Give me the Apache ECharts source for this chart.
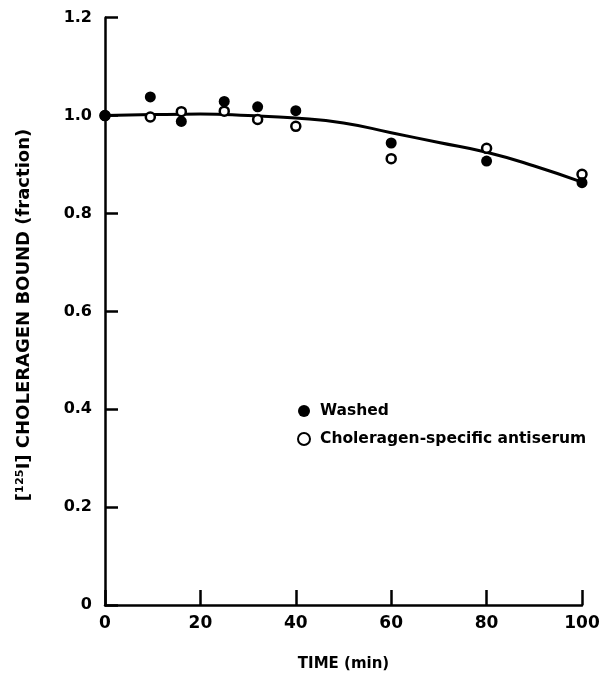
<!DOCTYPE html>
<html>
<head>
<meta charset="utf-8">
<script src="https://cdn.jsdelivr.net/npm/echarts@6/dist/echarts.min.js"></script>
<style>
html,body{margin:0;padding:0;background:#fff;}
#chart{width:607px;height:677px;}
</style>
</head>
<body>
<div id="chart"></div>
<script>
// Data
const times = [0, 9.5, 16, 25, 32, 40, 60, 80, 100];
const washed = [1.0, 1.038, 0.988, 1.029, 1.018, 1.010, 0.944, 0.907, 0.863];
const antiserum = [1.0, 0.997, 1.008, 1.009, 0.992, 0.978, 0.912, 0.933, 0.880];
const curveTimes = [0, 10, 20, 30, 40, 50, 60, 70, 80, 90, 100];
const curveValues = [1.0, 1.002, 1.003, 1.0, 0.995, 0.985, 0.965, 0.945, 0.925, 0.897, 0.864];
const xTicks = [0, 20, 40, 60, 80, 100];
const yTicks = [0, 0.2, 0.4, 0.6, 0.8, 1.0, 1.2];

const pair = (xs, ys) => xs.map((x, i) => [x, ys[i]]);
const FONT = 'DejaVu Sans';

const chart = echarts.init(document.getElementById('chart'));
chart.setOption({
  backgroundColor: '#fff',
  animation: false,
  grid: {left: 105, right: 25, top: 17.7, bottom: 69.7, containLabel: false},
  legend: {
    orient: 'vertical',
    left: 292,
    top: 398,
    itemGap: 12,
    itemWidth: 12,
    itemHeight: 12,
    data: ['Washed', 'Choleragen-specific antiserum'],
    textStyle: {color: '#000', fontFamily: FONT, fontWeight: 'bold', fontSize: 15.5, padding: [0, 0, 0, 5]}
  },
  xAxis: {
    type: 'value', min: 0, max: 100, interval: 20,
    name: 'TIME (min)', nameLocation: 'middle', nameGap: 52,
    nameTextStyle: {color: '#000', fontFamily: FONT, fontWeight: 'bold', fontSize: 15},
    axisLine: {lineStyle: {color: '#000', width: 2.5}},
    axisTick: {inside: true, length: 15, lineStyle: {color: '#000', width: 2.5}},
    axisLabel: {color: '#000', fontFamily: FONT, fontWeight: 'bold', fontSize: 17, margin: 10,
      formatter: v => xTicks.includes(v) ? String(v) : ''},
    splitLine: {show: false}
  },
  yAxis: {
    type: 'value', min: 0, max: 1.2, interval: 0.2,
    axisLine: {show: true, lineStyle: {color: '#000', width: 2.5}},
    axisTick: {show: true, inside: true, length: 13, lineStyle: {color: '#000', width: 2.5}},
    axisLabel: {color: '#000', fontFamily: FONT, fontWeight: 'bold', fontSize: 16, margin: 13,
      formatter: v => {
        const t = yTicks.find(k => Math.abs(k - v) < 1e-6);
        if (t === undefined) return '';
        return t === 0 ? '0' : t.toFixed(1);
      }},
    splitLine: {show: false}
  },
  graphic: [{
    type: 'text',
    x: 24, y: 315,
    rotation: Math.PI / 2,
    style: {
      text: '[¹²⁵I] CHOLERAGEN BOUND (fraction)',
      fill: '#000',
      font: 'bold 18px "DejaVu Sans"',
      textAlign: 'center',
      textVerticalAlign: 'middle'
    }
  }],
  series: [
    {
      name: 'fit', type: 'line', smooth: true, showSymbol: false, symbol: 'none',
      data: pair(curveTimes, curveValues),
      lineStyle: {color: '#000', width: 3}, z: 2, silent: true
    },
    {
      name: 'Choleragen-specific antiserum', type: 'scatter', symbol: 'circle', symbolSize: 9,
      data: pair(times, antiserum),
      itemStyle: {color: '#fff', borderColor: '#000', borderWidth: 2.5, opacity: 1}, z: 3
    },
    {
      name: 'Washed', type: 'scatter', symbol: 'circle', symbolSize: 11,
      data: pair(times, washed),
      itemStyle: {color: '#000', opacity: 1}, z: 4
    }
  ]
});
</script>
</body>
</html>
